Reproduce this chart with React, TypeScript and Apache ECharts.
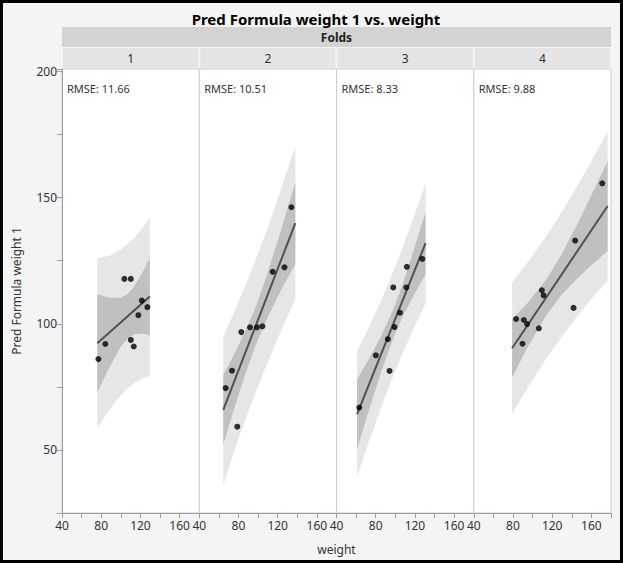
import React, { useEffect, useRef } from 'react';
import * as echarts from 'echarts';

const foldNames = ['1', '2', '3', '4'];
const rmseValues = ['11.66', '10.51', '8.33', '9.88'];

const fold1Weight = [77.1, 84.2, 103.6, 110.2, 110.2, 113.2, 117.9, 121.4, 127.1];
const fold1Pred = [86.0, 92.0, 117.8, 117.8, 93.6, 91.0, 103.4, 109.2, 106.6];
const fold1BandX = [76, 88, 100, 107, 114, 122, 129.6];
const fold1LightUpper = [126.0, 127.0, 129.5, 131.6, 134.2, 138.0, 142.2];
const fold1LightLower = [58.6, 65.8, 71.7, 74.4, 76.6, 78.4, 79.4];
const fold1DarkUpper = [111.8, 110.3, 110.3, 111.8, 115.0, 120.2, 126.1];
const fold1DarkLower = [72.8, 82.5, 91.0, 94.2, 95.9, 96.2, 95.5];
const fold1FitX = [76, 129.6];
const fold1FitY = [92.3, 110.8];

const fold2Weight = [66.9, 73.4, 78.8, 82.9, 91.8, 98.9, 104.4, 114.9, 126.9, 134.0];
const fold2Pred = [74.5, 81.4, 59.2, 96.7, 98.6, 98.6, 99.0, 120.6, 122.4, 146.2];
const fold2BandX = [64.5, 76, 88, 97.3, 108, 123, 138];
const fold2LightUpper = [94.9, 105.0, 116.1, 125.2, 136.2, 152.8, 170.2];
const fold2LightLower = [35.9, 50.0, 63.1, 72.6, 83.0, 96.8, 109.6];
const fold2DarkUpper = [79.7, 88.2, 97.9, 106.5, 118.1, 136.6, 156.1];
const fold2DarkLower = [52.1, 66.8, 81.3, 91.3, 101.1, 113.0, 123.7];
const fold2FitX = [64.5, 138];
const fold2FitY = [65.9, 139.9];

const fold3Weight = [63.2, 80.1, 92.4, 94.1, 97.9, 99.2, 104.7, 111.2, 111.8, 127.5];
const fold3Pred = [66.8, 87.5, 93.9, 81.3, 114.4, 98.7, 104.4, 114.4, 122.6, 125.7];
const fold3BandX = [61, 72, 85, 98.2, 108, 120, 130.9];
const fold3LightUpper = [89.0, 97.7, 108.7, 121.0, 130.8, 143.6, 155.9];
const fold3LightLower = [39.4, 52.1, 66.3, 79.6, 88.8, 99.2, 108.1];
const fold3DarkUpper = [78.0, 85.4, 94.7, 106.0, 116.3, 130.7, 144.4];
const fold3DarkLower = [50.4, 64.4, 80.3, 94.6, 103.3, 112.1, 119.6];
const fold3FitX = [61, 130.9];
const fold3FitY = [64.2, 132.0];

const fold4Weight = [83.2, 89.7, 91.1, 94.4, 106.4, 109.5, 111.2, 141.8, 143.5, 171.1];
const fold4Pred = [101.9, 92.1, 101.5, 99.9, 98.2, 113.3, 111.3, 106.3, 133.0, 155.7];
const fold4BandX = [79.1, 95, 114.2, 130, 145, 160, 176.6];
const fold4LightUpper = [116.4, 124.4, 134.9, 144.4, 154.1, 164.4, 176.3];
const fold4LightLower = [64.2, 74.6, 86.3, 95.0, 102.7, 109.8, 117.1];
const fold4DarkUpper = [101.9, 108.2, 117.7, 127.8, 139.0, 151.0, 164.5];
const fold4DarkLower = [78.7, 90.8, 103.5, 111.6, 117.8, 123.2, 128.9];
const fold4FitX = [79.1, 176.6];
const fold4FitY = [90.3, 146.7];

const folds = [
  { w: fold1Weight, p: fold1Pred, bx: fold1BandX, lu: fold1LightUpper, ll: fold1LightLower, du: fold1DarkUpper, dl: fold1DarkLower, fx: fold1FitX, fy: fold1FitY },
  { w: fold2Weight, p: fold2Pred, bx: fold2BandX, lu: fold2LightUpper, ll: fold2LightLower, du: fold2DarkUpper, dl: fold2DarkLower, fx: fold2FitX, fy: fold2FitY },
  { w: fold3Weight, p: fold3Pred, bx: fold3BandX, lu: fold3LightUpper, ll: fold3LightLower, du: fold3DarkUpper, dl: fold3DarkLower, fx: fold3FitX, fy: fold3FitY },
  { w: fold4Weight, p: fold4Pred, bx: fold4BandX, lu: fold4LightUpper, ll: fold4LightLower, du: fold4DarkUpper, dl: fold4DarkLower, fx: fold4FitX, fy: fold4FitY },
];

const FONT = "'Noto Sans', sans-serif";
const LIGHT = '#e6e6e6';
const DARK = '#c0c0c0';

export default function App() {
  const ref = useRef<HTMLDivElement>(null);

  useEffect(() => {
    if (!ref.current) return;
    const chart = echarts.init(ref.current, undefined, { renderer: 'svg' });

    const left0 = 62;
    const pw = 137.25;
    const top = 69;
    const height = 444;

    const grids: any[] = [];
    const xAxes: any[] = [];
    const yAxes: any[] = [];
    const series: any[] = [];
    const graphics: any[] = [];

    folds.forEach((f, i) => {
      const left = left0 + i * pw;
      grids.push({
        left, top, width: pw, height,
        show: true, backgroundColor: '#ffffff', borderColor: '#cccccc', borderWidth: 1,
      });
      xAxes.push({
        type: 'value', gridIndex: i, min: 40, max: 180, interval: 20,
        axisLine: { show: true, lineStyle: { color: '#a0a0a0' } },
        axisTick: { show: true, length: 5, lineStyle: { color: '#a0a0a0' } },
        axisLabel: {
          color: '#333', fontSize: 12, fontFamily: FONT, margin: 6,
          formatter: (v: number) => (v % 40 === 0 && v < 180 ? String(v) : ''),
        },
        splitLine: { show: false },
        z: 10,
      });
      yAxes.push({
        type: 'value', gridIndex: i, min: 25, max: 201, interval: 25,
        name: i === 0 ? 'Pred Formula weight 1' : '',
        nameLocation: 'middle', nameGap: 40, nameRotate: 90,
        nameTextStyle: { color: '#333', fontSize: 12, fontFamily: FONT },
        axisLine: { show: i === 0, lineStyle: { color: '#a0a0a0' } },
        axisTick: { show: i === 0, length: 5, lineStyle: { color: '#a0a0a0' } },
        axisLabel: {
          show: i === 0, color: '#333', fontSize: 12, fontFamily: FONT, margin: 5,
          formatter: (v: number) => (v % 50 === 0 ? String(v) : ''),
        },
        splitLine: { show: false },
      });

      // Confidence bands as polygons placed through the axis scales
      const band = (upper: number[], lower: number[], color: string, z: number) => ({
        type: 'custom', xAxisIndex: i, yAxisIndex: i, silent: true, z,
        clip: true,
        data: [0],
        renderItem: (_p: any, api: any) => {
          const up = f.bx.map((x, k) => api.coord([x, upper[k]]));
          const lo = f.bx.map((x, k) => api.coord([x, lower[k]])).reverse();
          return {
            type: 'polygon',
            shape: { points: up.concat(lo) },
            style: { fill: color, stroke: 'none' },
          };
        },
      });
      series.push(band(f.lu, f.ll, LIGHT, 1));
      series.push(band(f.du, f.dl, DARK, 2));

      series.push({
        type: 'line', xAxisIndex: i, yAxisIndex: i, symbol: 'none', silent: true,
        lineStyle: { color: '#505050', width: 2 },
        data: f.fx.map((x, k) => [x, f.fy[k]]),
        z: 3,
      });
      series.push({
        type: 'scatter', xAxisIndex: i, yAxisIndex: i, symbol: 'circle', symbolSize: 6,
        itemStyle: { color: '#000000' },
        data: f.w.map((x, k) => [x, f.p[k]]),
        z: 4,
      });

      graphics.push({
        type: 'rect', shape: { x: left + 1, y: 48, width: pw - 2, height: 20 },
        style: { fill: '#e4e4e4' }, silent: true,
      });
      graphics.push({
        type: 'text', x: left + pw / 2, y: 58,
        style: { text: foldNames[i], fill: '#333', font: `12px ${FONT}`, textAlign: 'center', textVerticalAlign: 'middle' },
      });
      graphics.push({
        type: 'text', x: left + 5, y: 88,
        style: { text: 'RMSE: ' + rmseValues[i], fill: '#333', font: `11px ${FONT}`, textAlign: 'left', textVerticalAlign: 'middle' },
      });
    });

    graphics.unshift({
      type: 'rect', shape: { x: left0, y: 27, width: pw * 4, height: 20 },
      style: { fill: '#d3d3d3' }, silent: true,
    });
    graphics.push({
      type: 'text', x: left0 + pw * 2, y: 37,
      style: { text: 'Folds', fill: '#222', font: `bold 12px ${FONT}`, textAlign: 'center', textVerticalAlign: 'middle' },
    });
    graphics.push({
      type: 'text', x: left0 + pw * 2, y: 549,
      style: { text: 'weight', fill: '#333', font: `12px ${FONT}`, textAlign: 'center', textVerticalAlign: 'middle' },
    });
    graphics.push({
      type: 'rect', shape: { x: 1.5, y: 1.5, width: 620, height: 560 },
      style: { fill: 'none', stroke: '#000', lineWidth: 3 }, silent: true, z: 100,
    });

    chart.setOption({
      animation: false,
      backgroundColor: '#f4f4f4',
      title: {
        text: 'Pred Formula weight 1 vs. weight',
        left: 311, top: 6, textAlign: 'center',
        textStyle: { fontSize: 15, fontWeight: 'bold', color: '#000', fontFamily: FONT },
      },
      grid: grids,
      xAxis: xAxes,
      yAxis: yAxes,
      series,
      graphic: graphics,
    });

    return () => chart.dispose();
  }, []);

  return (
    <div
      ref={ref}
      style={{ position: 'absolute', left: 0, top: 0, width: 623, height: 563 }}
    />
  );
}
